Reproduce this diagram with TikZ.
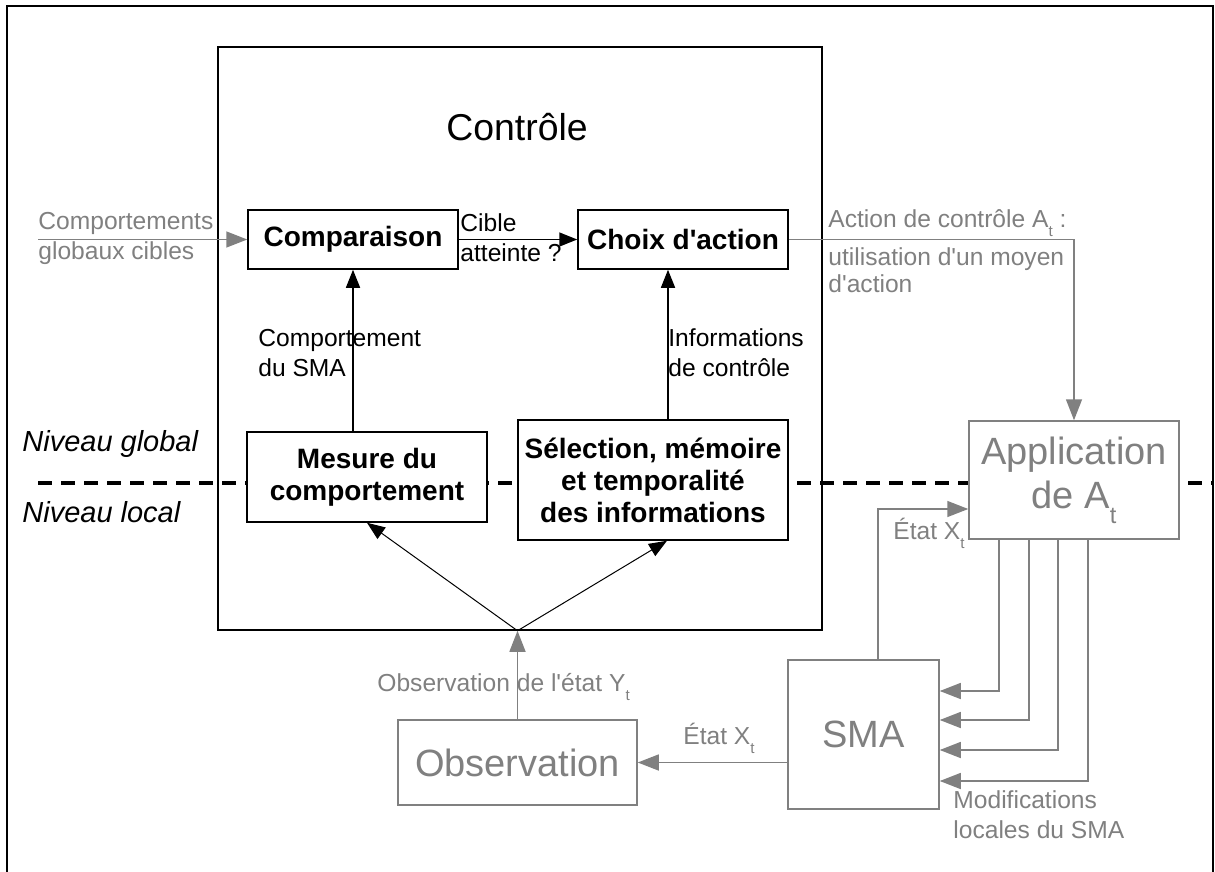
\documentclass[tikz,border=0pt]{standalone}
\usepackage{fontspec}
\setmainfont{Liberation Sans}
\usetikzlibrary{arrows.meta}
\definecolor{grisapp}{gray}{0.5}
\newcommand{\indt}{\raisebox{-0.4em}{\scalebox{0.62}{t}}}
\newcommand{\apos}{\textquotesingle}

\begin{document}
\begin{tikzpicture}[x=0.5pt,y=-0.5pt,
    boite/.style={draw,line width=0.75pt,fill=white,align=center,inner sep=0pt,
      font=\fontsize{14}{16}\selectfont\bfseries},
    boitegris/.style={draw=grisapp,line width=0.75pt,fill=white,text=grisapp,align=center,
      inner sep=0pt,font=\fontsize{19}{22}\selectfont},
    lbl/.style={anchor=west,align=left,inner sep=0pt,font=\fontsize{12.3}{15}\selectfont},
    lblgris/.style={lbl,text=grisapp},
    niveau/.style={anchor=base west,inner sep=0pt,font=\fontsize{14.5}{17}\selectfont\itshape},
    fl/.style={-{Triangle[length=9pt,width=7pt]},line width=0.75pt},
    flgris/.style={draw=grisapp,line width=0.75pt,-{Triangle[length=10.5pt,width=8pt]}}]
  \useasboundingbox (0,0) rectangle (1215,872);
  \draw[line width=0.6pt] (7,872) -- (7,6) -- (1213,6) -- (1213,872);
  % niveau global / niveau local
  \draw[line width=2pt,dash pattern=on 7pt off 4.5pt] (38,483) -- (1212,483);
  \node[niveau] (nglob) at (22,451) {Niveau global};
  \node[niveau] (nloc) at (22,522) {Niveau local};

  % bloc de controle
  \node[draw,line width=0.75pt,minimum width=302pt,minimum height=291.5pt] (ctrl) at (520,338.5) {};
  \node[font=\fontsize{18.7}{22}\selectfont] (titre) at (517,127) {Contrôle};
  \node[boite,minimum width=105pt,minimum height=29.5pt] (comp) at (353,239.5) {Comparaison};
  \node[boite,minimum width=105pt,minimum height=29.5pt] (choix) at (683,239.5) {Choix d\apos action};
  \node[boite,minimum width=120pt,minimum height=45pt] (mesure) at (367,477) {Mesure du\\comportement};
  \node[boite,minimum width=135pt,minimum height=60pt] (sel) at (653,480) {Sélection, mémoire\\et temporalité\\des informations};

  % systeme
  \node[boitegris,minimum width=105pt,minimum height=59pt] (app) at (1074,480) {Application\\de A\indt};
  \node[boitegris,minimum width=75.5pt,minimum height=74.5pt] (sma) at (863.5,734.5) {SMA};
  \node[boitegris,minimum width=119.5pt,minimum height=42.5pt] (obs) at (517.5,762.5) {Observation};
  \coordinate (apex) at (obs.north |- ctrl.south);
  \coordinate (entree) at (38,239.5);

  % labels
  \node[lblgris] (cibles) at (38,238) {Comportements\\globaux cibles};
  \node[lbl] (cible) at (460,238) {Cible\\atteinte ?};
  \node[lbl] (compsma) at (258,353) {Comportement\\du SMA};
  \node[lbl] (infos) at (668,353) {Informations\\de contrôle};
  \node[lblgris,anchor=base west] (actlbl) at (828,227) {Action de contrôle A\indt\ :};
  \node[lblgris,font=\fontsize{12.3}{13.5}\selectfont] (moyen) at (828,270) {utilisation d\apos un moyen\\d\apos action};
  \node[lblgris,anchor=base west] (obslbl) at (377,691) {Observation de l\apos état Y\indt};
  \node[lblgris,anchor=base west] (etat1) at (683,744) {État X\indt};
  \node[lblgris,anchor=base west] (etat2) at (893,539) {État X\indt};
  \node[lblgris] (modif) at (953,815) {Modifications\\locales du SMA};

  % fleches
  \draw[flgris] (entree) -- (comp.west);
  \draw[fl] (comp) -- (choix);
  \draw[fl] (comp.south |- mesure.north) -- (comp.south);
  \draw[fl] ([xshift=7.5pt]sel.north) -- ([xshift=7.5pt]sel.north |- choix.south);
  \draw[fl,line width=0.5pt] (apex) -- (mesure.south);
  \draw[fl,line width=0.5pt] (apex) -- ([xshift=7pt]sel.south);
  \draw[flgris] (obs.north) -- (apex);
  \draw[flgris] (choix.east) -| (app.north);
  \draw[flgris] (sma.west |- obs.east) -- (obs.east);
  \draw[flgris] ([xshift=7.25pt]sma.north) |- ([yshift=-14.5pt]app.west);
  \foreach \dx/\dy in {-37.5/21.75,-22.5/7.25,-8/-7.75,7/-23.25}
    \draw[flgris] ([xshift=\dx pt]app.south) |- ([yshift=\dy pt]sma.east);
\end{tikzpicture}
\end{document}
